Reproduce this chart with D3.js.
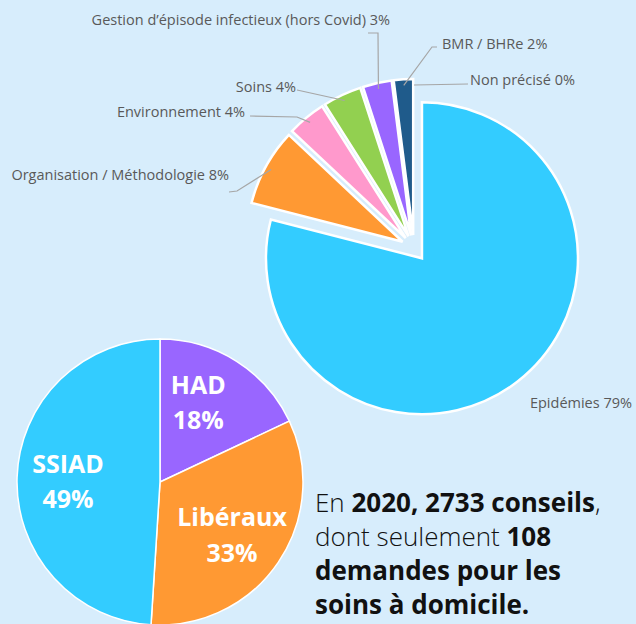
<!DOCTYPE html>
<html>
<head>
<meta charset="utf-8">
<script src="https://cdn.jsdelivr.net/npm/d3@7"></script>
<style>
  html, body { margin: 0; padding: 0; background: #d7edfc; }
  svg { display: block; }
</style>
</head>
<body>
<div id="chart"></div>
<script>
// Data: type of advice requests (big pie)
const adviceLabels = ["Epidémies", "Organisation / Méthodologie", "Environnement", "Soins",
                      "Gestion d’épisode infectieux (hors Covid)", "BMR / BHRe", "Non précisé"]
const adviceValues = [79, 8, 4, 4, 3, 2, 0]
const adviceColours = ["#33ccff", "#ff9933", "#ff99cc", "#92d050", "#9966ff", "#1f5b8b", "#7f7f7f"]

// Data: home care requests (small pie)
const homeLabels = ["HAD", "Libéraux", "SSIAD"]
const homeValues = [18, 33, 49]
const homeColours = ["#9966ff", "#ff9933", "#33ccff"]

// Caption, as runs of [text, bold]
const captionLines = [
    [["En ", false], ["2020, 2733 conseils", true], [",", false]],
    [["dont seulement ", false], ["108", true]],
    [["demandes pour les", true]],
    [["soins à domicile.", true]]
]

const WIDTH = 636
const HEIGHT = 624

// Big pie geometry
const BIG = {X: 414, Y: 248, R: 156, EXPLODE: 13}
// Small pie geometry
const SMALL = {X: 160, Y: 482, R: 143, LABEL_R: 92}

// Label placement for the big pie (text position, anchor, leader start points)
const bigLabelLayout = [
    {x: 632, y: 408, anchor: "end",   leader: null},
    {x: 229, y: 180, anchor: "end",   leader: [[229, 192], [237, 191]]},
    {x: 245, y: 117, anchor: "end",   leader: [[250, 116], [297, 117]]},
    {x: 296, y: 92,  anchor: "end",   leader: [[297, 90]]},
    {x: 390, y: 25,  anchor: "end",   leader: [[368, 33], [378, 33]]},
    {x: 442, y: 49,  anchor: "start", leader: [[437, 47], [432, 47]]},
    {x: 470, y: 85,  anchor: "start", leader: [[468, 84]]}
]

// Small nudges for the small pie labels (from their centroid)
const smallLabelNudge = [[-11, -8], [-4, -5], [0, -4]]

let svg = d3.select("#chart").append("svg")
    .attr("width", WIDTH)
    .attr("height", HEIGHT)

svg.append("rect")
    .attr("width", WIDTH)
    .attr("height", HEIGHT)
    .attr("fill", "#d7edfc")

// ---- Big pie ----
let bigPie = d3.pie().sort(null).value(d => d)
let bigArcs = bigPie(adviceValues)

let bigArc = d3.arc().innerRadius(0).outerRadius(BIG.R)

// offset of each exploded slice along its bisector
function explodeOffset(d) {
    let a = (d.startAngle + d.endAngle) / 2
    return [Math.sin(a) * BIG.EXPLODE, -Math.cos(a) * BIG.EXPLODE]
}

let bigG = svg.append("g")
    .attr("transform", "translate(" + BIG.X + "," + BIG.Y + ")")

bigG.selectAll("path")
    .data(bigArcs.filter(d => d.value > 0))
    .enter()
    .append("path")
        .attr("transform", d => "translate(" + explodeOffset(d) + ")")
        .attr("d", bigArc)
        .attr("fill", d => adviceColours[d.index])
        .attr("stroke", "#ffffff")
        .attr("stroke-width", 2.5)

// Leader lines
bigArcs.forEach((d, i) => {
    let lay = bigLabelLayout[i]
    if (!lay.leader) return
    let a = (d.startAngle + d.endAngle) / 2
    let off = explodeOffset(d)
    let end = [BIG.X + off[0] + Math.sin(a) * (BIG.R - 6), BIG.Y + off[1] - Math.cos(a) * (BIG.R - 6)]
    let pts = lay.leader.concat([end])
    svg.append("path")
        .attr("d", d3.line()(pts))
        .attr("fill", "none")
        .attr("stroke", "#a6a6a6")
        .attr("stroke-width", 1.2)
})

// Labels
svg.selectAll("text.bigLabel")
    .data(bigArcs)
    .enter()
    .append("text")
        .attr("class", "bigLabel")
        .attr("x", (d, i) => bigLabelLayout[i].x)
        .attr("y", (d, i) => bigLabelLayout[i].y)
        .attr("text-anchor", (d, i) => bigLabelLayout[i].anchor)
        .attr("font-family", "'Open Sans', sans-serif")
        .attr("font-size", "14.5px")
        .attr("fill", "#595959")
        .text((d, i) => adviceLabels[i] + " " + d.value + "%")

// ---- Small pie ----
let smallPie = d3.pie().sort(null).value(d => d)
let smallArcs = smallPie(homeValues)
let smallArc = d3.arc().innerRadius(0).outerRadius(SMALL.R)
let labelArc = d3.arc().innerRadius(SMALL.LABEL_R).outerRadius(SMALL.LABEL_R)

let smallG = svg.append("g")
    .attr("transform", "translate(" + SMALL.X + "," + SMALL.Y + ")")

smallG.selectAll("path")
    .data(smallArcs)
    .enter()
    .append("path")
        .attr("d", smallArc)
        .attr("fill", (d, i) => homeColours[i])
        .attr("stroke", "#ffffff")
        .attr("stroke-width", 1.5)

let smallText = smallG.selectAll("text")
    .data(smallArcs)
    .enter()
    .append("text")
        .attr("transform", (d, i) => {
            let c = labelArc.centroid(d)
            return "translate(" + (c[0] + smallLabelNudge[i][0]) + "," + (c[1] + smallLabelNudge[i][1]) + ")"
        })
        .attr("text-anchor", "middle")
        .attr("font-family", "'Open Sans', sans-serif")
        .attr("font-weight", "bold")
        .attr("font-size", "25px")
        .attr("fill", "#ffffff")

smallText.append("tspan")
    .attr("x", 0)
    .attr("dy", "-0.1em")
    .text((d, i) => homeLabels[i])
smallText.append("tspan")
    .attr("x", 0)
    .attr("dy", "1.42em")
    .text(d => d.value + "%")

// ---- Caption ----
let caption = svg.append("text")
    .attr("font-family", "'Open Sans', sans-serif")
    .attr("font-size", "26px")
    .attr("fill", "#111111")

captionLines.forEach((line, li) => {
    line.forEach((run, ri) => {
        let t = caption.append("tspan")
            .attr("font-weight", run[1] ? 700 : 300)
            .text(run[0])
        if (ri == 0) t.attr("x", 315).attr("y", 512 + li * 34)
    })
})
</script>
</body>
</html>
